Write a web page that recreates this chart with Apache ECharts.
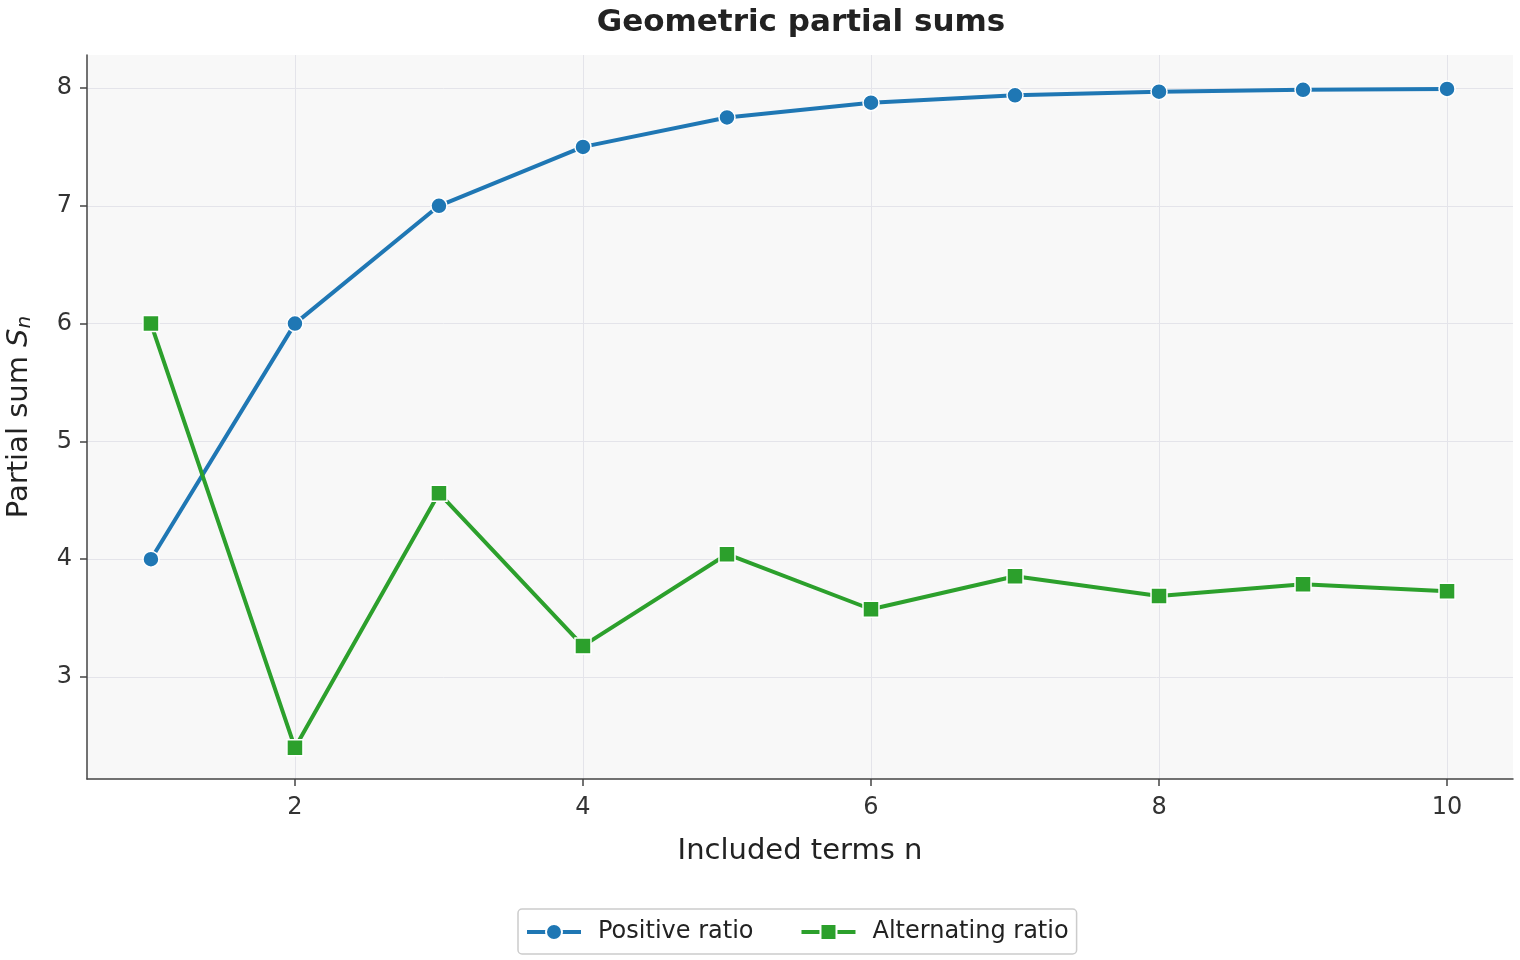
<!DOCTYPE html>
<html><head><meta charset="utf-8">
<script src="https://cdn.jsdelivr.net/npm/echarts@6/dist/echarts.min.js"></script>
<style>html,body{margin:0;padding:0;background:#fff}#c{width:1520px;height:960px}</style>
</head><body><div id="c"></div>
<script>
const nTerms = [1,2,3,4,5,6,7,8,9,10];
const positiveRatio = [4, 6, 7, 7.5, 7.75, 7.875, 7.9375, 7.96875, 7.984, 7.992];
const alternatingRatio = [6, 2.4, 4.56, 3.264, 4.042, 3.575, 3.855, 3.687, 3.788, 3.727];
const xTicks = [2,4,6,8,10];
const yTicks = [3,4,5,6,7,8];

const chart = echarts.init(document.getElementById('c'));
const font = 'DejaVu Sans';
chart.setOption({
  animation:false,
  textStyle:{fontFamily:font},
  title:{text:'Geometric partial sums', left:796, textAlign:'center', top:2,
    textStyle:{fontFamily:font, fontSize:31, fontWeight:'bold', color:'#222'}},
  grid:{left:87, right:7, top:55, bottom:181, show:true, backgroundColor:'#f8f8f8', borderWidth:0,
    outerBoundsMode:'none', containLabel:false},
  legend:{bottom:6, left:518, itemWidth:54, itemHeight:20, itemGap:46,
    padding:[11,8,10,7], borderColor:'#ccc', borderWidth:1.5, borderRadius:4,
    lineStyle:{width:4},
    textStyle:{fontFamily:font, fontSize:24, color:'#222', padding:[0,0,0,12]},
    data:['Positive ratio','Alternating ratio']},
  xAxis:{type:'value', min:0.556, max:10.458,
    name:'Included terms n', nameLocation:'middle', nameGap:58,
    nameTextStyle:{fontFamily:font, fontSize:29, color:'#222'},
    axisLine:{show:true, onZero:false, lineStyle:{color:'#444', width:1.5}},
    axisTick:{show:true, length:7, customValues:xTicks, lineStyle:{color:'#444', width:1.5}},
    axisLabel:{customValues:xTicks, fontFamily:font, fontSize:24, color:'#333', margin:17},
    splitLine:{show:true, lineStyle:{color:'#e4e4ea', width:1}}},
  yAxis:{type:'value', min:2.134, max:8.28,
    name:'{a|Partial sum }{s|S}{n|n}', nameLocation:'middle', nameGap:52,
    nameTextStyle:{fontFamily:font, fontSize:29, color:'#222',
      rich:{a:{fontFamily:font, fontSize:29, color:'#222'},
            s:{fontFamily:font, fontSize:29, fontStyle:'italic', color:'#222'},
            n:{fontFamily:font, fontSize:20, fontStyle:'italic', color:'#222', padding:[12,0,0,0]}}},
    axisLine:{show:true, onZero:false, lineStyle:{color:'#444', width:1.5}},
    axisTick:{show:true, length:7, customValues:yTicks, lineStyle:{color:'#444', width:1.5}},
    axisLabel:{customValues:yTicks, fontFamily:font, fontSize:24, color:'#333', margin:15},
    splitLine:{show:true, lineStyle:{color:'#e4e4ea', width:1}}},
  series:[
    {name:'Positive ratio', type:'line', data:nTerms.map((n,i)=>[n,positiveRatio[i]]),
      symbol:'circle', symbolSize:16, color:'#1f77b4',
      lineStyle:{width:4, color:'#1f77b4'},
      itemStyle:{color:'#1f77b4', borderColor:'#fff', borderWidth:1.5}},
    {name:'Alternating ratio', type:'line', data:nTerms.map((n,i)=>[n,alternatingRatio[i]]),
      symbol:'rect', symbolSize:16, color:'#2ca02c',
      lineStyle:{width:4, color:'#2ca02c'},
      itemStyle:{color:'#2ca02c', borderColor:'#fff', borderWidth:1.5}}
  ]
});
</script></body></html>
